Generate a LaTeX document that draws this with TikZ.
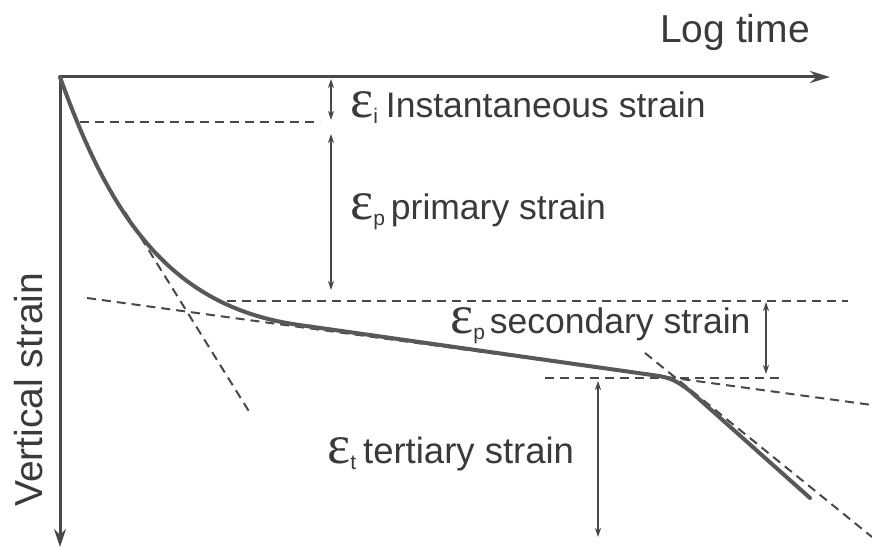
\documentclass[tikz,border=0pt]{standalone}
\usepackage{fontspec}
\setmainfont{Liberation Sans}
\newfontfamily\epsfont{Liberation Serif}
\usetikzlibrary{arrows.meta}
\definecolor{ink}{HTML}{3A3A3A}
\definecolor{lineg}{HTML}{484848}
\definecolor{curveg}{HTML}{585858}
\newcommand{\epslab}[1]{{\epsfont\fontsize{55}{55}\selectfont ε}\raisebox{-6pt}{\fontsize{21}{21}\selectfont #1}}
\begin{document}
\begin{tikzpicture}[x=1pt,y=-1pt,
  axis/.style={line width=3pt,draw=lineg,line join=miter,{Stealth[length=18pt,width=12pt]}-{Stealth[length=20pt,width=12pt]}},
  dim/.style={line width=1.4pt,draw=lineg,{Stealth[length=9pt,width=6pt]}-{Stealth[length=9pt,width=6pt]}},
  guide/.style={line width=2pt,draw=lineg,dash pattern=on 9pt off 6pt},
  curvestyle/.style={line width=4pt,draw=curveg,line join=round,line cap=round},
  lbl/.style={inner sep=0pt,anchor=base west,text=ink,font=\fontsize{35.5}{36}\selectfont},
]
\useasboundingbox (0,0) rectangle (872,548);
\fill[white] (0,0) rectangle (872,548);

% axes
\coordinate (O) at (60,77);
\coordinate (xtip) at (830,77);
\coordinate (ytip) at (60,547);
\draw[axis] (ytip) -- (O) -- (xtip);

% guide lines
\coordinate (hi1) at (80,122);   \coordinate (hi2) at (320,122);
\coordinate (hs1) at (227,301);  \coordinate (hs2) at (848,301);
\coordinate (ht1) at (545,378);  \coordinate (ht2) at (783,378);
\draw[guide] (hi1) -- (hi2);
\draw[guide] (hs1) -- (hs2);
\draw[guide] (ht1) -- (ht2);

% tangents
\coordinate (tp1) at (125,212);  \coordinate (tp2) at (250,413);
\coordinate (ts1) at (87,298);   \coordinate (ts2) at (872,405);
\coordinate (tt1) at (645,353);  \coordinate (tt2) at (872,537);
\draw[guide] (tp1) -- (tp2);
\draw[guide] (ts1) -- (ts2);
\draw[guide] (tt1) -- (tt2);

% creep curve
\coordinate (c0) at (60,77);
\coordinate (c1) at (300,325.1);
\coordinate (c2) at (655,375.4);
\coordinate (c3) at (690,391);
\coordinate (c4) at (810,498);
\draw[curvestyle] (c0) .. controls (110,217) and (170,307.4) .. (c1)
  -- (c2) .. controls (670,377.4) and (677,381) .. (c3) -- (c4);

% dimension arrows
\coordinate (ai1) at (331,79);   \coordinate (ai2) at (331,120);
\coordinate (ap1) at (331,134);  \coordinate (ap2) at (331,290);
\coordinate (as1) at (766,302);  \coordinate (as2) at (766,374);
\coordinate (at1) at (598,381);  \coordinate (at2) at (598,537);
\draw[dim] (ai1) -- (ai2);
\draw[dim] (ap1) -- (ap2);
\draw[dim] (as1) -- (as2);
\draw[dim] (at1) -- (at2);

% labels
\node[lbl,font=\fontsize{39}{40}\selectfont] (lt) at (660,43) {Log time};
\node[lbl,font=\fontsize{39}{40}\selectfont,rotate=90] (vs) at (42,507) {Vertical strain};
\node[lbl] (li) at (350,118) {\epslab{i}\hspace{8pt}Instantaneous strain};
\node[lbl] (lp) at (350,219) {\epslab{p}\hspace{6pt}primary strain};
\node[lbl] (ls) at (450,333) {\epslab{p}\hspace{5pt}secondary strain};
\node[lbl,font=\fontsize{36.5}{37}\selectfont] (lt3) at (327,463) {\epslab{t}\hspace{7pt}tertiary strain};
\end{tikzpicture}
\end{document}
